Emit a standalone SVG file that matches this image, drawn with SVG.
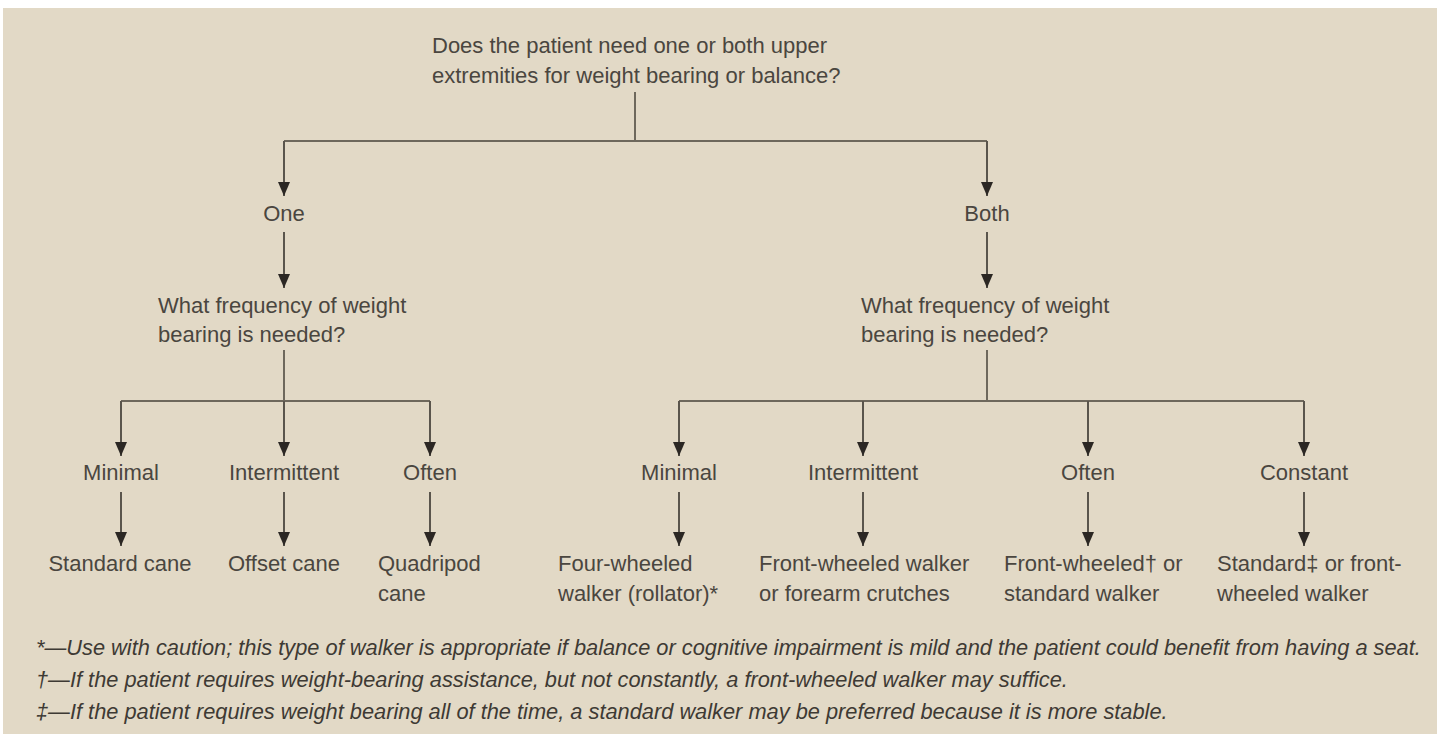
<svg xmlns="http://www.w3.org/2000/svg" width="1440" height="737" viewBox="0 0 1440 737">
<defs>
<marker id="arr" markerUnits="userSpaceOnUse" markerWidth="16" markerHeight="14" viewBox="0 0 16 14" refX="15" refY="7" orient="auto">
<path d="M1,1 L15,7 L1,13 Z" fill="#2b2723"/>
</marker>
<style>
.t{font-family:"Liberation Sans",Arial,sans-serif;font-size:22px;fill:#4a463f}
.c{text-anchor:middle}
.f{font-family:"Liberation Sans",Arial,sans-serif;font-size:21.8px;font-style:italic;fill:#3e3a34}
.ln{fill:none;stroke:#6e685c;stroke-width:2}
.ar{fill:none;stroke:#5a554c;stroke-width:2;marker-end:url(#arr)}
</style>
</defs>
<rect x="0" y="0" width="1440" height="737" fill="#ffffff"/>
<rect x="3" y="8" width="1434" height="726" fill="#e2d9c6"/>
<g id="connectors">
<path class="ln" d="M635,92 V141 M284,141 H987"/>
<path class="ar" d="M284,141 V196"/>
<path class="ar" d="M987,141 V196"/>
<path class="ar" d="M284,232 V288"/>
<path class="ar" d="M987,232 V288"/>
<path class="ln" d="M284,350 V401 M121,401 H430"/>
<path class="ar" d="M121,401 V456"/>
<path class="ar" d="M284,401 V456"/>
<path class="ar" d="M430,401 V456"/>
<path class="ln" d="M987,350 V401 M679,401 H1304"/>
<path class="ar" d="M679,401 V456"/>
<path class="ar" d="M863,401 V456"/>
<path class="ar" d="M1088,401 V456"/>
<path class="ar" d="M1304,401 V456"/>
<path class="ar" d="M121,492 V546"/>
<path class="ar" d="M284,492 V546"/>
<path class="ar" d="M430,492 V546"/>
<path class="ar" d="M679,492 V546"/>
<path class="ar" d="M863,492 V546"/>
<path class="ar" d="M1088,492 V546"/>
<path class="ar" d="M1304,492 V546"/>
</g>
<g id="q1"><text class="t" x="432" y="53">Does the patient need one or both upper</text><text class="t" x="432" y="83">extremities for weight bearing or balance?</text></g>
<g id="one"><text class="t c" x="284" y="221">One</text></g>
<g id="both"><text class="t c" x="987" y="221">Both</text></g>
<g id="q2"><text class="t" x="158" y="313">What frequency of weight</text><text class="t" x="158" y="342">bearing is needed?</text></g>
<g id="q3"><text class="t" x="861" y="313">What frequency of weight</text><text class="t" x="861" y="342">bearing is needed?</text></g>
<g id="l-min"><text class="t c" x="121" y="480">Minimal</text></g>
<g id="l-int"><text class="t c" x="284" y="480">Intermittent</text></g>
<g id="l-oft"><text class="t c" x="430" y="480">Often</text></g>
<g id="r-min"><text class="t c" x="679" y="480">Minimal</text></g>
<g id="r-int"><text class="t c" x="863" y="480">Intermittent</text></g>
<g id="r-oft"><text class="t c" x="1088" y="480">Often</text></g>
<g id="r-con"><text class="t c" x="1304" y="480">Constant</text></g>
<g id="std-cane"><text class="t c" x="120" y="571">Standard cane</text></g>
<g id="off-cane"><text class="t c" x="284" y="571">Offset cane</text></g>
<g id="quad-cane"><text class="t" x="378" y="571">Quadripod</text><text class="t" x="378" y="601">cane</text></g>
<g id="four-w"><text class="t" x="558" y="571">Four-wheeled</text><text class="t" x="558" y="601">walker (rollator)*</text></g>
<g id="front-w"><text class="t" x="759" y="571">Front-wheeled walker</text><text class="t" x="759" y="601">or forearm crutches</text></g>
<g id="front-std"><text class="t" x="1004" y="571">Front-wheeled† or</text><text class="t" x="1004" y="601">standard walker</text></g>
<g id="std-front"><text class="t" x="1217" y="571">Standard‡ or front-</text><text class="t" x="1217" y="601">wheeled walker</text></g>
<g id="notes">
<text class="f" x="36" y="655">*—Use with caution; this type of walker is appropriate if balance or cognitive impairment is mild and the patient could benefit from having a seat.</text>
<text class="f" x="36" y="687">†—If the patient requires weight-bearing assistance, but not constantly, a front-wheeled walker may suffice.</text>
<text class="f" x="36" y="719">‡—If the patient requires weight bearing all of the time, a standard walker may be preferred because it is more stable.</text>
</g>
</svg>
